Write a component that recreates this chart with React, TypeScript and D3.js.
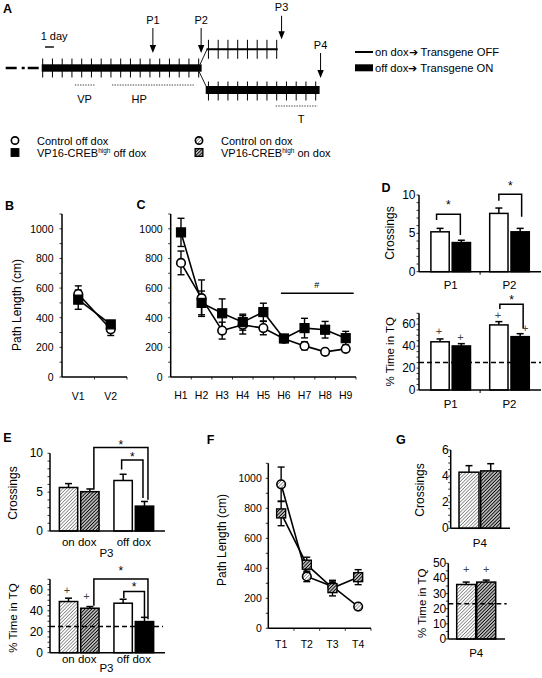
import React from "react";
import * as d3 from "d3";

const FONT = "'Liberation Sans', Arial, Helvetica, sans-serif";

// ===== Panel A: schedule (days) =====
const trainingTickDays = [0, 1, 2, 3, 4, 5, 6, 7, 8, 9, 10, 11, 12, 13, 14, 15, 16];
const onDoxTickDays = [17, 18, 19, 20, 21, 22, 23, 24];
const offDoxTickDays = [17, 18, 19, 20, 21, 22, 23, 24, 25, 26, 27, 28];
const trainingEndDay = 16.3;
const branchStartDay = 16.8;
const onDoxEndDay = 24.1;
const offDoxEndDay = 28.4;
const probeLabels = ["P1", "P2", "P3", "P4"];
const probeDays = [11.3, 16.25, 24.5, 28.5];
const probeRows = ["main", "main", "onDox", "offDox"];
const phaseLabels = ["VP", "HP", "T"];
const phaseStartDays = [3.3, 7.1, 23.9];
const phaseEndDays = [5.4, 15.5, 28.2];
const phaseLabelDays = [4.3, 9.9, 26.5];
const phaseRows = ["main", "main", "offDox"];
const scheduleLegendLabels = ["on dox\u2794 Transgene OFF", "off dox\u2794 Transgene ON"];

// ===== Group legend =====
const groupLegendNames = ["Control off dox", "VP16-CREB", "Control on dox", "VP16-CREB"];
const groupLegendSup = ["", "high", "", "high"];
const groupLegendSuffix = ["", " off dox", "", " on dox"];
const groupLegendMarkers = ["circle", "square", "hcircle", "hsquare"];

// ===== B: visible platform =====
const visibleDays = ["V1", "V2"];
const visibleControl = [560, 322];
const visibleControlErr = [55, 42];
const visibleCreb = [522, 355];
const visibleCrebErr = [65, 22];

// ===== C: hidden platform =====
const hiddenDays = ["H1", "H2", "H3", "H4", "H5", "H6", "H7", "H8", "H9"];
const hiddenControl = [770, 532, 313, 352, 330, 258, 210, 170, 190];
const hiddenControlErr = [80, 123, 57, 62, 45, 25, 27, 10, 14];
const hiddenCreb = [976, 500, 430, 370, 438, 260, 330, 319, 262];
const hiddenCrebErr = [95, 80, 97, 54, 60, 25, 66, 56, 46];

// ===== D: probes P1, P2 =====
const probeD = ["P1", "P2"];
const crossControlOffD = [5.2, 7.6];
const crossControlOffDErr = [0.45, 0.7];
const crossCrebOffD = [3.8, 5.2];
const crossCrebOffDErr = [0.3, 0.45];
const tqControlOffD = [44, 59.4];
const tqControlOffDErr = [2.6, 3.0];
const tqCrebOffD = [40.2, 48.7];
const tqCrebOffDErr = [2.1, 2.7];

// ===== E: probe P3 =====
const doxGroupsE = ["on dox", "off dox"];
const crossControlE = [5.6, 6.5];
const crossControlEErr = [0.5, 0.8];
const crossCrebE = [5.06, 3.2];
const crossCrebEErr = [0.35, 0.6];
const tqControlE = [48.8, 47.2];
const tqControlEErr = [3.2, 3.8];
const tqCrebE = [42.4, 29.7];
const tqCrebEErr = [1.6, 4.0];

// ===== F: transfer =====
const transferDays = ["T1", "T2", "T3", "T4"];
const transferControlOn = [960, 346, 279, 145];
const transferControlOnErr = [115, 35, 30, 8];
const transferCrebOn = [766, 424, 268, 341];
const transferCrebOnErr = [82, 50, 52, 50];

// ===== G: probe P4 =====
const probeG = ["P4"];
const crossControlOnG = [4.3];
const crossControlOnGErr = [0.5];
const crossCrebOnG = [4.4];
const crossCrebOnGErr = [0.55];
const tqControlOnG = [36];
const tqControlOnGErr = [1.6];
const tqCrebOnG = [37.6];
const tqCrebOnGErr = [1.3];

// fills
const WHITE = "#fff";
const BLACK = "#000";
const LIGHT = "url(#hatchLight)";
const DARK = "url(#hatchDark)";

function Marker({ kind, x, y, size = 1 }: { kind: string; x: number; y: number; size?: number }) {
  const r = 4.3 * size;
  const s = 9 * size;
  if (kind === "circle") return <circle cx={x} cy={y} r={r} fill="#fff" stroke="#000" strokeWidth={1.6} />;
  if (kind === "hcircle") return <circle cx={x} cy={y} r={r} fill={LIGHT} stroke="#000" strokeWidth={1.6} />;
  if (kind === "square") return <rect x={x - s / 2} y={y - s / 2} width={s} height={s} fill="#000" stroke="#000" strokeWidth={1.2} />;
  return <rect x={x - s / 2} y={y - s / 2} width={s} height={s} fill={DARK} stroke="#000" strokeWidth={1.4} />;
}

function PanelLetter({ t, x, y }: { t: string; x: number; y: number }) {
  return (
    <text x={x} y={y} fontSize={12.5} fontWeight="bold">
      {t}
    </text>
  );
}

function YTitle({ t, x, y, fs = 12 }: { t: string; x: number; y: number; fs?: number }) {
  return (
    <text transform={`translate(${x},${y}) rotate(-90)`} textAnchor="middle" dominantBaseline="central" fontSize={fs}>
      {t}
    </text>
  );
}

type Series = { values: number[]; errs: number[]; marker: string };

function LinePanel(p: {
  cats: string[];
  series: Series[];
  x0: number;
  x1: number;
  yTop: number;
  yBottom: number;
  yMax: number;
  majorStep: number;
  minorStep: number;
  labelGap: number;
  catY: number;
  children?: any;
}) {
  const x = d3.scaleBand<string>().domain(p.cats).range([p.x0, p.x1]);
  const y = d3.scaleLinear().domain([0, p.yMax]).range([p.yBottom, p.yTop]);
  const cx = (c: string) => (x(c) as number) + x.bandwidth() / 2;
  const majors = d3.range(0, p.yMax + 1e-6, p.majorStep);
  const minors = d3.range(0, p.yMax + 1e-6, p.minorStep);
  const line = d3
    .line<number>()
    .x((_, i) => cx(p.cats[i]))
    .y((d) => y(d));
  return (
    <g>
      {p.series.map((s, k) => (
        <path key={"l" + k} d={line(s.values) || ""} fill="none" stroke="#000" strokeWidth={1.6} />
      ))}
      {p.series.map((s, k) =>
        s.values.map((v, i) => {
          const xc = cx(p.cats[i]);
          return (
            <g key={"e" + k + i} stroke="#000" strokeWidth={1.4}>
              <line x1={xc} x2={xc} y1={y(v - s.errs[i])} y2={y(v + s.errs[i])} />
              <line x1={xc - 3.5} x2={xc + 3.5} y1={y(v + s.errs[i])} y2={y(v + s.errs[i])} />
              <line x1={xc - 3.5} x2={xc + 3.5} y1={y(v - s.errs[i])} y2={y(v - s.errs[i])} />
            </g>
          );
        })
      )}
      {p.series.map((s, k) => s.values.map((v, i) => <Marker key={"m" + k + i} kind={s.marker} x={cx(p.cats[i])} y={y(v)} />))}
      {/* axes */}
      <line x1={p.x0} x2={p.x0} y1={p.yTop} y2={p.yBottom} stroke="#000" strokeWidth={1.5} />
      <line x1={p.x0} x2={p.x1} y1={p.yBottom} y2={p.yBottom} stroke="#000" strokeWidth={1.5} />
      {minors.map((v) => (
        <line key={"mi" + v} x1={p.x0 - 2.5} x2={p.x0} y1={y(v)} y2={y(v)} stroke="#000" strokeWidth={0.8} />
      ))}
      {majors.map((v) => (
        <text key={"t" + v} x={p.x0 - p.labelGap} y={y(v)} textAnchor="end" dominantBaseline="central" fontSize={10.5}>
          {v}
        </text>
      ))}
      {p.cats.map((c) => (
        <line key={"xt" + c} x1={(x(c) as number) + x.bandwidth()} x2={(x(c) as number) + x.bandwidth()} y1={p.yBottom} y2={p.yBottom + 2.5} stroke="#000" strokeWidth={0.8} />
      ))}
      {p.cats.map((c) => (
        <text key={"c" + c} x={cx(c)} y={p.catY} textAnchor="middle" fontSize={10.5}>
          {c}
        </text>
      ))}
      {p.children ? p.children({ x: cx, y }) : null}
    </g>
  );
}

type Bracket = { a: [number, number]; b: [number, number]; dxa: number; dxb: number; top: number; ya: number; yb: number; starGap: number };
type Plus = { g: number; s: number; dx: number; v: number };

function BarPanel(p: {
  groups: string[];
  values: number[][];
  errs: number[][];
  fills: string[][];
  x0: number;
  xEnd: number;
  groupRange: [number, number];
  innerWidth: number;
  innerPad: number;
  yTop: number;
  yBottom: number;
  yMax: number;
  majors: number[];
  minorStep: number;
  labelGap: number;
  groupLabelY: number;
  chance?: number;
  chanceEnd?: number;
  brackets?: Bracket[];
  pluses?: Plus[];
  boundaryTicks?: boolean;
}) {
  const gx = d3.scaleBand<string>().domain(p.groups).range(p.groupRange);
  const nS = p.values[0].length;
  const inner = d3
    .scaleBand<number>()
    .domain(d3.range(nS))
    .range([-p.innerWidth / 2, p.innerWidth / 2])
    .paddingInner(p.innerPad);
  const y = d3.scaleLinear().domain([0, p.yMax]).range([p.yBottom, p.yTop]);
  const bw = inner.bandwidth();
  const gc = (g: number) => (gx(p.groups[g]) as number) + gx.bandwidth() / 2;
  const bx = (g: number, s: number) => gc(g) + (inner(s) as number);
  const bc = (g: number, s: number) => bx(g, s) + bw / 2;
  const minors = d3.range(0, p.yMax + 1e-6, p.minorStep);
  return (
    <g>
      {p.values.map((row, g) =>
        row.map((v, s) => {
          const e = p.errs[g][s];
          const c = bc(g, s);
          return (
            <g key={"b" + g + s}>
              <line x1={c} x2={c} y1={y(v)} y2={y(v + e)} stroke="#000" strokeWidth={1.5} />
              <line x1={c - 3.5} x2={c + 3.5} y1={y(v + e)} y2={y(v + e)} stroke="#000" strokeWidth={1.5} />
              <rect x={bx(g, s)} y={y(v)} width={bw} height={p.yBottom - y(v)} fill={p.fills[g][s]} stroke="#000" strokeWidth={1.5} />
            </g>
          );
        })
      )}
      {p.chance !== undefined ? (
        <line x1={p.x0} x2={p.chanceEnd ?? p.xEnd} y1={y(p.chance)} y2={y(p.chance)} stroke="#000" strokeWidth={1.5} strokeDasharray="5 3" />
      ) : null}
      <line x1={p.x0} x2={p.x0} y1={p.yTop} y2={p.yBottom} stroke="#000" strokeWidth={1.5} />
      <line x1={p.x0} x2={p.xEnd} y1={p.yBottom} y2={p.yBottom} stroke="#000" strokeWidth={1.5} />
      {minors.map((v) => (
        <line key={"mi" + v} x1={p.x0 - 2.5} x2={p.x0} y1={y(v)} y2={y(v)} stroke="#000" strokeWidth={0.8} />
      ))}
      {p.majors.map((v) => (
        <text key={"t" + v} x={p.x0 - p.labelGap} y={y(v)} textAnchor="end" dominantBaseline="central" fontSize={12}>
          {v}
        </text>
      ))}
      {p.boundaryTicks
        ? p.groups.slice(1).map((g) => (
            <line key={"bt" + g} x1={gx(g) as number} x2={gx(g) as number} y1={p.yBottom} y2={p.yBottom + 3} stroke="#000" strokeWidth={1} />
          ))
        : null}
      {p.groups.map((g, i) => (
        <text key={"gl" + g} x={gc(i)} y={p.groupLabelY} textAnchor="middle" fontSize={11.5}>
          {g}
        </text>
      ))}
      {(p.brackets || []).map((b, i) => {
        const xa = bc(b.a[0], b.a[1]) + b.dxa;
        const xb = bc(b.b[0], b.b[1]) + b.dxb;
        const yt = y(b.top);
        return (
          <g key={"br" + i}>
            <path d={`M${xa},${y(b.ya)}V${yt}H${xb}V${y(b.yb)}`} fill="none" stroke="#000" strokeWidth={1.5} />
            <text x={(xa + xb) / 2} y={yt - b.starGap + 6} textAnchor="middle" fontSize={12}>
              *
            </text>
          </g>
        );
      })}
      {(p.pluses || []).map((q, i) => (
        <text key={"pl" + i} x={bc(q.g, q.s) + q.dx} y={y(q.v)} textAnchor="middle" dominantBaseline="central" fontSize={11} fill="#444">
          +
        </text>
      ))}
    </g>
  );
}

function Schedule() {
  const dayX = d3.scaleLinear().domain([0, 28]).range([42.7, 315.7]);
  const rowY: Record<string, number> = { main: 68, onDox: 49.3, offDox: 90 };
  const tickHalf = 9.5;
  const tickLines = (days: number[], yc: number, key: string) =>
    days.map((d) => <line key={key + d} x1={dayX(d)} x2={dayX(d)} y1={yc - tickHalf} y2={yc + tickHalf} stroke="#000" strokeWidth={1} />);
  const phaseOffset: Record<string, number> = { main: 17, offDox: 16 };
  return (
    <g>
      <PanelLetter t="A" x={3} y={13} />
      {/* dash-dot lead in */}
      <line x1={dayX(0) - 37} x2={dayX(0) - 3.5} y1={rowY.main} y2={rowY.main} stroke="#000" strokeWidth={2.6} strokeDasharray="11 5 3 3 11 50" />
      {/* training bar */}
      <rect x={dayX(0) - 1} y={rowY.main - 3.7} width={dayX(trainingEndDay) - dayX(0) + 1} height={7.4} fill="#000" />
      {tickLines(trainingTickDays, rowY.main, "tm")}
      {/* branches */}
      <line x1={dayX(trainingEndDay) - 1.5} y1={rowY.main - 3.7} x2={dayX(branchStartDay) + 0.5} y2={rowY.onDox} stroke="#000" strokeWidth={0.9} />
      <line x1={dayX(trainingEndDay) - 2.5} y1={rowY.main + 3.7} x2={dayX(branchStartDay) - 0.5} y2={rowY.offDox - 4} stroke="#000" strokeWidth={0.9} />
      <line x1={dayX(branchStartDay)} x2={dayX(onDoxEndDay)} y1={rowY.onDox} y2={rowY.onDox} stroke="#000" strokeWidth={2} />
      {tickLines(onDoxTickDays, rowY.onDox, "to")}
      <rect x={dayX(branchStartDay) - 0.8} y={rowY.offDox - 4} width={dayX(offDoxEndDay) - dayX(branchStartDay) + 0.8} height={8} fill="#000" />
      {tickLines(offDoxTickDays, rowY.offDox + 1, "tf")}
      {/* 1 day scale */}
      <text x={dayX(0) - 2} y={40} fontSize={11}>
        1 day
      </text>
      <line x1={dayX(0.24)} x2={dayX(1.15)} y1={47} y2={47} stroke="#000" strokeWidth={1.4} />
      {/* phases */}
      {phaseLabels.map((l, i) => {
        const yl = rowY[phaseRows[i]] + tickHalf + (phaseRows[i] === "main" ? 7.5 : 6.5);
        return (
          <g key={l}>
            <line x1={dayX(phaseStartDays[i])} x2={dayX(phaseEndDays[i])} y1={yl} y2={yl} stroke="#444" strokeWidth={1} strokeDasharray="1.4 1.2" />
            <text x={dayX(phaseLabelDays[i])} y={yl + phaseOffset[phaseRows[i]] + 1} textAnchor="middle" fontSize={11}>
              {l}
            </text>
          </g>
        );
      })}
      {/* probe arrows */}
      {probeLabels.map((l, i) => {
        const xp = dayX(probeDays[i]);
        const gap = probeRows[i] === "main" ? 5.5 : probeRows[i] === "onDox" ? 0.5 : 3.5;
        const tip = rowY[probeRows[i]] - tickHalf - gap + (probeRows[i] === "offDox" ? 1 : 0);
        const len = probeRows[i] === "onDox" ? 23.5 : 25;
        const top = tip - len;
        return (
          <g key={l}>
            <line x1={xp} x2={xp} y1={top} y2={tip - 6} stroke="#000" strokeWidth={1} />
            <path d={`M${xp - 3.2},${tip - 8}L${xp + 3.2},${tip - 8}L${xp},${tip}Z`} fill="#000" />
            <text x={xp} y={top - 4.5} textAnchor="middle" fontSize={11}>
              {l}
            </text>
          </g>
        );
      })}
      {/* schedule legend */}
      <line x1={355} x2={373} y1={52} y2={52} stroke="#000" strokeWidth={2} />
      <text x={375} y={56} fontSize={11.2}>
        {scheduleLegendLabels[0]}
      </text>
      <rect x={355} y={64.3} width={18} height={7} fill="#000" />
      <text x={375} y={72} fontSize={11.2}>
        {scheduleLegendLabels[1]}
      </text>
    </g>
  );
}

function GroupLegend() {
  const colX = [15, 199];
  const rowY = [140.5, 152.5];
  return (
    <g>
      {groupLegendNames.map((n, i) => {
        const cx = colX[Math.floor(i / 2)];
        const cy = rowY[i % 2];
        return (
          <g key={i}>
            <Marker kind={groupLegendMarkers[i]} x={cx} y={cy} size={0.85} />
            <text x={cx + 22} y={cy + 4} fontSize={11}>
              {n}
              {groupLegendSup[i] ? (
                <tspan fontSize={6.5} dy={-4}>
                  {groupLegendSup[i]}
                </tspan>
              ) : null}
              {groupLegendSuffix[i] ? <tspan dy={groupLegendSup[i] ? 4 : 0}>{groupLegendSuffix[i]}</tspan> : null}
            </text>
          </g>
        );
      })}
    </g>
  );
}

const pairs = (a: number[], b: number[]) => a.map((v, i) => [v, b[i]]);

export default function App() {
  return (
    <svg
      width={542}
      height={678}
      viewBox="0 0 542 678"
      style={{ position: "absolute", left: 0, top: 0, background: "#fff" }}
      fontFamily={FONT}
    >
      <defs>
        <pattern id="hatchLight" patternUnits="userSpaceOnUse" width={2.4} height={2.4} patternTransform="rotate(45)">
          <rect width={2.4} height={2.4} fill="#fff" />
          <line x1={1.2} x2={1.2} y1={0} y2={2.4} stroke="#777" strokeWidth={0.75} />
        </pattern>
        <pattern id="hatchDark" patternUnits="userSpaceOnUse" width={2.4} height={2.4} patternTransform="rotate(45)">
          <rect width={2.4} height={2.4} fill="#fff" />
          <line x1={1.2} x2={1.2} y1={0} y2={2.4} stroke="#000" strokeWidth={1.25} />
        </pattern>
      </defs>
      <rect width={542} height={678} fill="#fff" />
      <Schedule />
      <GroupLegend />

      {/* B */}
      <PanelLetter t="B" x={5} y={210} />
      <YTitle t="Path Length (cm)" x={17} y={305} />
      <LinePanel
        cats={visibleDays}
        series={[
          { values: visibleControl, errs: visibleControlErr, marker: "circle" },
          { values: visibleCreb, errs: visibleCrebErr, marker: "square" },
        ]}
        x0={62}
        x1={127}
        yTop={214}
        yBottom={377}
        yMax={1100}
        majorStep={200}
        minorStep={100}
        labelGap={8.5}
        catY={400}
      />

      {/* C */}
      <PanelLetter t="C" x={136.5} y={209} />
      <LinePanel
        cats={hiddenDays}
        series={[
          { values: hiddenControl, errs: hiddenControlErr, marker: "circle" },
          { values: hiddenCreb, errs: hiddenCrebErr, marker: "square" },
        ]}
        x0={170.7}
        x1={356}
        yTop={214}
        yBottom={377}
        yMax={1100}
        majorStep={200}
        minorStep={100}
        labelGap={8}
        catY={398.5}
      >
        {({ x, y }: any) => (
          <g>
            <line x1={x("H6") - 3} x2={x("H9") + 8} y1={y(565)} y2={y(565)} stroke="#000" strokeWidth={1.5} />
            <text x={(x("H6") + x("H9")) / 2 + 2} y={y(565) - 5} textAnchor="middle" fontSize={9}>
              #
            </text>
          </g>
        )}
      </LinePanel>

      {/* D */}
      <PanelLetter t="D" x={381.5} y={192} />
      <YTitle t="Crossings" x={390} y={233} />
      <BarPanel
        groups={probeD}
        values={pairs(crossControlOffD, crossCrebOffD)}
        errs={pairs(crossControlOffDErr, crossCrebOffDErr)}
        fills={[
          [WHITE, BLACK],
          [WHITE, BLACK],
        ]}
        x0={419}
        xEnd={541}
        groupRange={[421.3, 538.9]}
        innerWidth={39.6}
        innerPad={0.14}
        yTop={195}
        yBottom={271.7}
        yMax={10}
        majors={[0, 5, 10]}
        minorStep={1}
        labelGap={3.5}
        groupLabelY={289}
        boundaryTicks
        brackets={[
          { a: [0, 0], b: [0, 1], dxa: -3.5, dxb: -1, top: 7.48, ya: 6.74, yb: 4.78, starGap: 11 },
          { a: [1, 0], b: [1, 1], dxa: 0, dxb: 1.5, top: 10.09, ya: 9.26, yb: 7.17, starGap: 10 },
        ]}
      />
      <YTitle t="% Time in TQ" x={390} y={351.7} fs={11.5} />
      <BarPanel
        groups={probeD}
        values={pairs(tqControlOffD, tqCrebOffD)}
        errs={pairs(tqControlOffDErr, tqCrebOffDErr)}
        fills={[
          [WHITE, BLACK],
          [WHITE, BLACK],
        ]}
        x0={419}
        xEnd={541}
        groupRange={[421.3, 538.9]}
        innerWidth={39.6}
        innerPad={0.14}
        yTop={313.3}
        yBottom={390}
        yMax={70}
        majors={[0, 20, 40, 60]}
        minorStep={5}
        labelGap={3.5}
        groupLabelY={407.7}
        chance={25}
        boundaryTicks
        brackets={[{ a: [1, 0], b: [1, 1], dxa: 1, dxb: 3, top: 78.3, ya: 74, yb: 56.3, starGap: 6.6 }]}
        pluses={[
          { g: 0, s: 0, dx: -1, v: 53.9 },
          { g: 0, s: 1, dx: -1, v: 48.4 },
          { g: 1, s: 0, dx: -1, v: 68.5 },
          { g: 1, s: 1, dx: 5, v: 56.6 },
        ]}
      />

      {/* E */}
      <PanelLetter t="E" x={3.3} y={442} />
      <YTitle t="Crossings" x={13} y={493} />
      <BarPanel
        groups={doxGroupsE}
        values={[
          [crossControlE[0], crossCrebE[0]],
          [crossControlE[1], crossCrebE[1]],
        ]}
        errs={[
          [crossControlEErr[0], crossCrebEErr[0]],
          [crossControlEErr[1], crossCrebEErr[1]],
        ]}
        fills={[
          [LIGHT, DARK],
          [WHITE, BLACK],
        ]}
        x0={50}
        xEnd={165}
        groupRange={[51.9, 161.1]}
        innerWidth={39.7}
        innerPad={0.14}
        yTop={453.3}
        yBottom={531}
        yMax={10}
        majors={[0, 5, 10]}
        minorStep={1}
        labelGap={7}
        groupLabelY={546}
        brackets={[
          { a: [0, 1], b: [1, 1], dxa: 4, dxb: 3.5, top: 10.74, ya: 5.32, yb: 4.03, starGap: 5 },
          { a: [1, 0], b: [1, 1], dxa: -1.5, dxb: -1.5, top: 9.13, ya: 7.92, yb: 4.25, starGap: 4.7 },
        ]}
      />
      <text x={106.5} y={556.7} textAnchor="middle" fontSize={11.5}>
        P3
      </text>
      <YTitle t="% Time in TQ" x={13} y={618} fs={11.5} />
      <BarPanel
        groups={doxGroupsE}
        values={[
          [tqControlE[0], tqCrebE[0]],
          [tqControlE[1], tqCrebE[1]],
        ]}
        errs={[
          [tqControlEErr[0], tqCrebEErr[0]],
          [tqControlEErr[1], tqCrebEErr[1]],
        ]}
        fills={[
          [LIGHT, DARK],
          [WHITE, BLACK],
        ]}
        x0={50}
        xEnd={165}
        groupRange={[51.9, 161.1]}
        innerWidth={39.7}
        innerPad={0.14}
        yTop={579.3}
        yBottom={652.7}
        yMax={70}
        majors={[0, 20, 40, 60]}
        minorStep={5}
        labelGap={7}
        groupLabelY={663.3}
        chance={25}
        chanceEnd={163}
        brackets={[
          { a: [0, 1], b: [1, 1], dxa: 4, dxb: 3.5, top: 70.2, ya: 44.7, yb: 32, starGap: 10 },
          { a: [1, 0], b: [1, 1], dxa: 0.7, dxb: 0, top: 58.4, ya: 52.1, yb: 33.9, starGap: 6.7 },
        ]}
        pluses={[
          { g: 0, s: 0, dx: -1.6, v: 60 },
          { g: 0, s: 1, dx: -3.3, v: 54.3 },
        ]}
      />
      <text x={106.5} y={671.7} textAnchor="middle" fontSize={11.5}>
        P3
      </text>

      {/* F */}
      <PanelLetter t="F" x={206.7} y={444} />
      <YTitle t="Path Length (cm)" x={221.7} y={540} />
      <LinePanel
        cats={transferDays}
        series={[
          { values: transferControlOn, errs: transferControlOnErr, marker: "hcircle" },
          { values: transferCrebOn, errs: transferCrebOnErr, marker: "hsquare" },
        ]}
        x0={268.3}
        x1={371}
        yTop={463.3}
        yBottom={628.3}
        yMax={1100}
        majorStep={200}
        minorStep={100}
        labelGap={6.5}
        catY={647.5}
      />

      {/* G */}
      <PanelLetter t="G" x={396} y={444} />
      <YTitle t="Crossings" x={420} y={490} />
      <BarPanel
        groups={probeG}
        values={pairs(crossControlOnG, crossCrebOnG)}
        errs={pairs(crossControlOnGErr, crossCrebOnGErr)}
        fills={[[LIGHT, DARK]]}
        x0={450.7}
        xEnd={510}
        groupRange={[450.7, 509]}
        innerWidth={41.7}
        innerPad={0.078}
        yTop={450}
        yBottom={528.3}
        yMax={6}
        majors={[0, 2, 4, 6]}
        minorStep={0.5}
        labelGap={2}
        groupLabelY={546.7}
      />
      <YTitle t="% Time in TQ" x={421.7} y={603.3} fs={11.5} />
      <BarPanel
        groups={probeG}
        values={pairs(tqControlOnG, tqCrebOnG)}
        errs={pairs(tqControlOnGErr, tqCrebOnGErr)}
        fills={[[LIGHT, DARK]]}
        x0={448.3}
        xEnd={505}
        groupRange={[448.3, 504.1]}
        innerWidth={39}
        innerPad={0.05}
        yTop={563.3}
        yBottom={639}
        yMax={50}
        majors={[0, 10, 20, 30, 40, 50]}
        minorStep={5}
        labelGap={2}
        groupLabelY={656.7}
        chance={23.3}
        chanceEnd={506.7}
        pluses={[
          { g: 0, s: 0, dx: 0, v: 46 },
          { g: 0, s: 1, dx: 0, v: 46 },
        ]}
      />
    </svg>
  );
}
